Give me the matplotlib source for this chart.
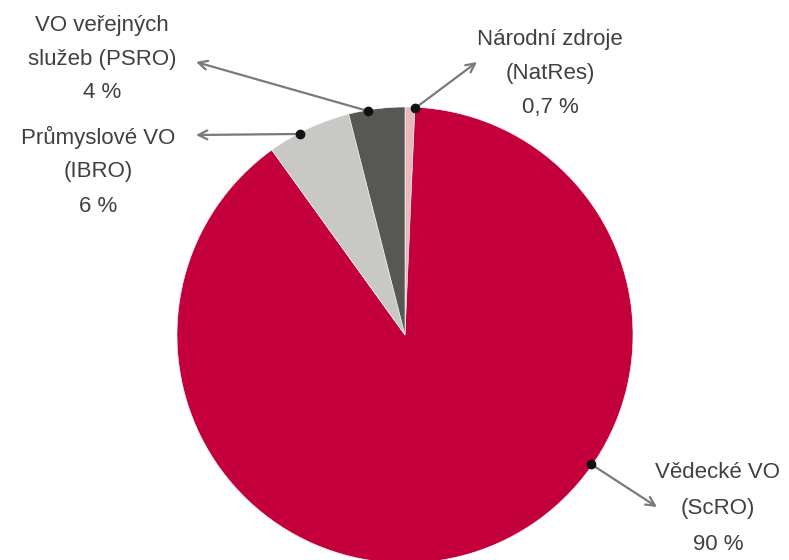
import numpy as np
import matplotlib
matplotlib.use('Agg')
import matplotlib.pyplot as plt

# data, clockwise from 12 o'clock
labels = ['Národní zdroje\n(NatRes)', 'Vědecké VO\n(ScRO)',
          'Průmyslové VO\n(IBRO)', 'VO veřejných\nslužeb (PSRO)']
values = [0.7, 90, 6, 4]
value_text = ['0,7 %', '90 %', '6 %', '4 %']
colors = ['#e8b8bc', '#c4003c', '#c8c8c5', '#575755']

W, H = 789, 560
cx, cy, R = 405, H - 335, 228

# where along each slice the dot sits (fraction of slice, clockwise), label layout in px
dot_frac = [1.0, 0.38, 0.38, 0.35]
text_x = [550, 718, 98, 102]
text_y0 = [40, 472, 137, 25]
line_gap = [34, 36.5, 35, 34]
arrow_tip = [(477, 62), (657, 507), (196, 135), (196, 62)]

fig = plt.figure(figsize=(W / 100, H / 100), dpi=100)
ax = fig.add_axes([0, 0, 1, 1])

ax.pie(values, colors=colors, startangle=90, counterclock=False,
       center=(cx, cy), radius=R, frame=True,
       wedgeprops=dict(edgecolor='white', linewidth=0.4))
ax.set_xlim(0, W)
ax.set_ylim(0, H)
ax.set_aspect('equal')
ax.axis('off')

vals = np.array(values, dtype=float)
spans = 360 * vals / vals.sum()
starts = 90 - np.concatenate([[0], np.cumsum(spans)[:-1]])

for i in range(len(values)):
    ang = np.radians(starts[i] - dot_frac[i] * spans[i])
    dx = cx + 0.995 * R * np.cos(ang)
    dy = cy + 0.995 * R * np.sin(ang)
    tx, ty = arrow_tip[i]
    ax.annotate('', xy=(tx, H - ty), xytext=(dx, dy),
                arrowprops=dict(arrowstyle='->', color='#7a7a7a', lw=1.6,
                                mutation_scale=16, shrinkA=0, shrinkB=0))
    ax.plot(dx, dy, 'o', color='#111111', markersize=6, zorder=5)
    lines = labels[i].split('\n') + [value_text[i]]
    for k, line in enumerate(lines):
        ax.text(text_x[i], H - (text_y0[i] + k * line_gap[i]), line,
                ha='center', va='center', fontsize=16, color='#404040',
                family=['Liberation Sans', 'DejaVu Sans'])

fig.savefig('out.png', dpi=100, facecolor='white')
